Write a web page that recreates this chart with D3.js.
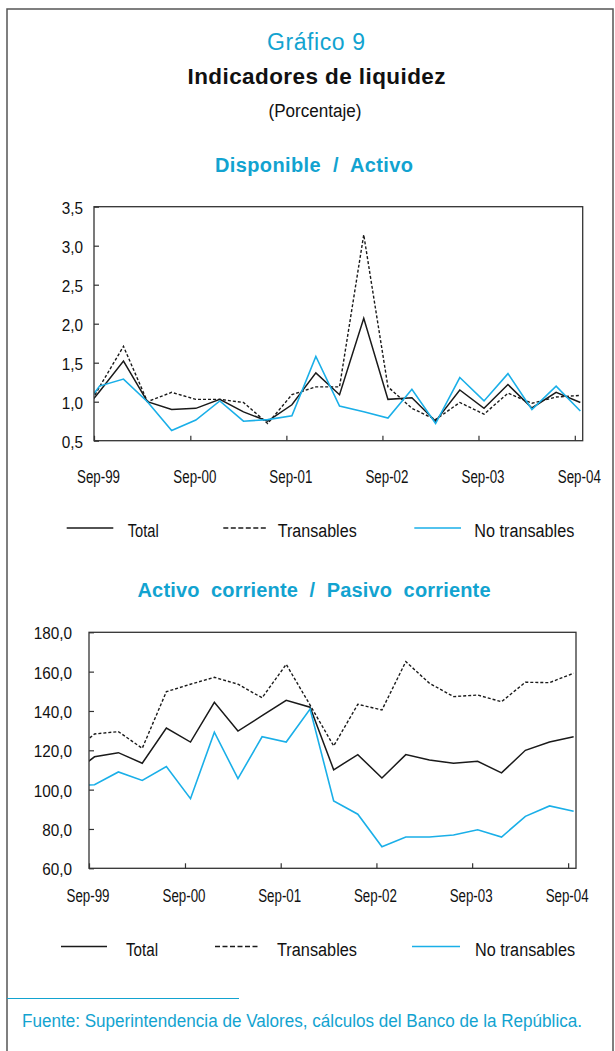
<!DOCTYPE html>
<html>
<head>
<meta charset="utf-8">
<script src="https://cdn.jsdelivr.net/npm/d3@7"></script>
<style>
  body { margin: 0; background: #fff; }
  text { font-family: "Liberation Sans", Arial, sans-serif; fill: #111; }
</style>
</head>
<body>
<svg id="page" width="615" height="1051"></svg>
<script>
// quarterly observations (the first one sits left of the axis and gets clipped)
let periods = ["Jun-99", "Sep-99", "Dec-99", "Mar-00", "Jun-00", "Sep-00", "Dec-00", "Mar-01",
               "Jun-01", "Sep-01", "Dec-01", "Mar-02", "Jun-02", "Sep-02", "Dec-02", "Mar-03",
               "Jun-03", "Sep-03", "Dec-03", "Mar-04", "Jun-04", "Sep-04"];
let xTickLabels = ["Sep-99", "Sep-00", "Sep-01", "Sep-02", "Sep-03", "Sep-04"];
let seriesNames = ["Total", "Transables", "No transables"];

// Disponible / Activo
let dispTotal        = [0.75, 1.13, 1.52, 1.00, 0.90, 0.915, 1.03, 0.87, 0.75, 0.96, 1.37,
                        1.09, 2.07, 1.03, 1.05, 0.75, 1.15, 0.915, 1.22, 0.92, 1.12, 0.99];
let dispTransables   = [0.64, 1.19, 1.71, 1.00, 1.12, 1.03, 1.03, 0.99, 0.72, 1.09, 1.19,
                        1.19, 3.14, 1.19, 0.915, 0.77, 0.99, 0.84, 1.11, 0.98, 1.06, 1.08];
let dispNoTransables = [0.78, 1.20, 1.29, 1.00, 0.63, 0.765, 1.01, 0.75, 0.77, 0.82, 1.58,
                        0.945, 0.87, 0.79, 1.16, 0.72, 1.31, 1.01, 1.36, 0.90, 1.20, 0.88];
let dispTicks = [0.5, 1.0, 1.5, 2.0, 2.5, 3.0, 3.5];

// Activo corriente / Pasivo corriente
let corrTotal        = [107.2, 116.7, 118.8, 113.4, 131.3, 124.2, 144.4, 129.8, 137.6, 145.4, 141.9,
                        110.1, 117.8, 105.9, 117.8, 115.1, 113.4, 114.4, 108.5, 120.0, 124.2, 126.9];
let corrTransables   = [118.3, 128.3, 129.5, 121.0, 149.8, 153.6, 157.1, 153.6, 146.7, 163.7, 143.0,
                        122.2, 143.4, 140.5, 165.1, 154.1, 147.3, 148.1, 144.7, 154.6, 154.4, 159.2];
let corrNoTransables = [102.0, 102.5, 109.0, 104.7, 111.7, 95.4, 129.2, 105.6, 126.9, 124.2, 141.0,
                        94.2, 87.5, 71.0, 75.9, 75.9, 76.9, 79.6, 75.9, 86.4, 91.7, 89.0];
let corrTicks = [60, 80, 100, 120, 140, 160, 180];

let cyan = "#12a3d0",
    lineBlue = "#1aafe8",
    axisColor = "#333";

let parseMonth = d3.timeParse("%b-%y");
let fmt = d3.formatLocale({ decimal: ",", thousands: ".", grouping: [3], currency: ["$", ""] }).format(".1f");

// observation dates fall a few weeks after the tick month
let dates = periods.map(p => d3.timeDay.offset(parseMonth(p), 21));

let styles = [
  { color: "#1a1a1a", dash: null,  width: 1.5, legendDash: null },
  { color: "#1a1a1a", dash: "3,2", width: 1.4, legendDash: "5,2.5" },
  { color: lineBlue,  dash: null,  width: 1.6, legendDash: null }
];

var svg = d3.select("#page");

// squeeze glyphs horizontally (the original uses a condensed face)
function squeeze(sel, factor) {
  sel.each(function() {
    let len = this.getComputedTextLength();
    d3.select(this).attr("textLength", len * factor).attr("lengthAdjust", "spacingAndGlyphs");
  });
}

function fitText(sel, len, glyphs) {
  sel.attr("textLength", len).attr("lengthAdjust", glyphs ? "spacingAndGlyphs" : "spacing");
}

// outer frame (bottom edge runs off the page)
svg.append("rect")
  .attr("x", 7).attr("y", 9)
  .attr("width", 606).attr("height", 1100)
  .attr("fill", "none").attr("stroke", "#555").attr("stroke-width", 1.5);

function heading(txt, x, y, size, bold, color) {
  return svg.append("text")
    .attr("x", x).attr("y", y)
    .attr("text-anchor", "middle")
    .style("font-size", size + "px")
    .style("font-weight", bold ? "bold" : "normal")
    .style("fill", color || "#111")
    .text(txt);
}

fitText(heading("Gráfico\u00A09", 316, 50, 23, false, cyan), 98);
fitText(heading("Indicadores de liquidez", 316.5, 84, 22.5, true), 258);
fitText(heading("(Porcentaje)", 315, 117, 18, false), 93, true);

function drawChart(cfg) {
  let x = d3.scaleTime()
    .domain([parseMonth("Sep-99"), parseMonth("Oct-04")])
    .range([cfg.left, cfg.right]);

  let y = d3.scaleLinear()
    .domain([cfg.ticks[0], cfg.ticks[cfg.ticks.length - 1]])
    .range([cfg.bottom, cfg.top]);

  fitText(heading(cfg.title, 314, cfg.titleY, 20, true, cyan), cfg.titleLen);

  let g = svg.append("g");

  let clipId = "clip-" + cfg.id;
  g.append("clipPath").attr("id", clipId)
    .append("rect")
      .attr("x", cfg.left).attr("y", cfg.top - 10)
      .attr("width", cfg.right - cfg.left).attr("height", cfg.bottom - cfg.top + 10);

  // y axis, ticks pointing inwards
  let yAxis = d3.axisLeft(y)
    .tickValues(cfg.ticks)
    .tickFormat(fmt)
    .tickSizeInner(-5)
    .tickSizeOuter(0)
    .tickPadding(cfg.yPad);

  g.append("g")
    .attr("transform", "translate(" + cfg.left + ",0)")
    .call(yAxis)
    .call(a => a.select(".domain").remove())
    .call(a => a.selectAll(".tick line").attr("stroke", axisColor).attr("stroke-width", 1.2))
    .call(a => a.selectAll(".tick text")
      .attr("dy", "0.38em")
      .style("font-size", "17px")
      .call(squeeze, 0.9));

  let xAxis = d3.axisBottom(x)
    .tickValues(xTickLabels.map(parseMonth))
    .tickFormat((d, i) => xTickLabels[i])
    .tickSizeInner(-5)
    .tickSizeOuter(0)
    .tickPadding(cfg.xPad);

  g.append("g")
    .attr("transform", "translate(0," + cfg.bottom + ")")
    .call(xAxis)
    .call(a => a.select(".domain").remove())
    .call(a => a.selectAll(".tick line").attr("stroke", axisColor).attr("stroke-width", 1.2))
    .call(a => a.selectAll(".tick text")
      .attr("dx", cfg.xDx)
      .style("font-size", "17.5px")
      .call(fitText, 43, true));

  // series
  let line = d3.line()
    .x((d, i) => x(dates[i]))
    .y(d => y(d));

  cfg.series.forEach((vals, k) => {
    g.append("path")
      .datum(vals)
      .attr("clip-path", "url(#" + clipId + ")")
      .attr("fill", "none")
      .attr("stroke", styles[k].color)
      .attr("stroke-width", styles[k].width)
      .attr("stroke-dasharray", styles[k].dash)
      .attr("d", line);
  });

  // plot frame
  g.append("rect")
    .attr("x", cfg.left).attr("y", cfg.top)
    .attr("width", cfg.right - cfg.left).attr("height", cfg.bottom - cfg.top)
    .attr("fill", "none").attr("stroke", axisColor).attr("stroke-width", 1.3);

  // legend
  seriesNames.forEach((name, k) => {
    let L = cfg.legend[k];
    g.append("line")
      .attr("x1", L[0]).attr("x2", L[1])
      .attr("y1", cfg.legendY).attr("y2", cfg.legendY)
      .attr("stroke", styles[k].color)
      .attr("stroke-width", 1.4)
      .attr("stroke-dasharray", styles[k].legendDash);
    g.append("text")
      .attr("x", L[2]).attr("y", cfg.legendY + 9)
      .style("font-size", "18px")
      .text(name)
      .call(fitText, L[3], true);
  });
}

drawChart({
  id: "disp",
  title: "Disponible\u00A0 /\u00A0 Activo", titleY: 171.5, titleLen: 198,
  left: 94, right: 582.7, top: 206.7, bottom: 440.7,
  ticks: dispTicks, yPad: 11, xPad: 30, xDx: 4,
  series: [dispTotal, dispTransables, dispNoTransables],
  legendY: 528,
  legend: [[66.7, 113.3, 127.7, 31], [223.3, 268.3, 277.7, 79], [414.3, 461, 474.3, 100]]
});

drawChart({
  id: "corr",
  title: "Activo\u00A0 corriente\u00A0 /\u00A0 Pasivo\u00A0 corriente", titleY: 596.5, titleLen: 353,
  left: 89, right: 576, top: 632.3, bottom: 868.3,
  ticks: corrTicks, yPad: 17, xPad: 21, xDx: -1.5,
  series: [corrTotal, corrTransables, corrNoTransables],
  legendY: 946.5,
  legend: [[61, 107, 126, 32], [215, 260, 277, 80], [412, 460, 475, 100]]
});

// source note
svg.append("line")
  .attr("x1", 7).attr("x2", 239)
  .attr("y1", 998.5).attr("y2", 998.5)
  .attr("stroke", cyan).attr("stroke-width", 1.2);

svg.append("text")
  .attr("x", 22).attr("y", 1027)
  .style("font-size", "17.5px")
  .style("fill", cyan)
  .text("Fuente: Superintendencia de Valores, cálculos del Banco de la República.")
  .call(fitText, 560, true);
</script>
</body>
</html>
